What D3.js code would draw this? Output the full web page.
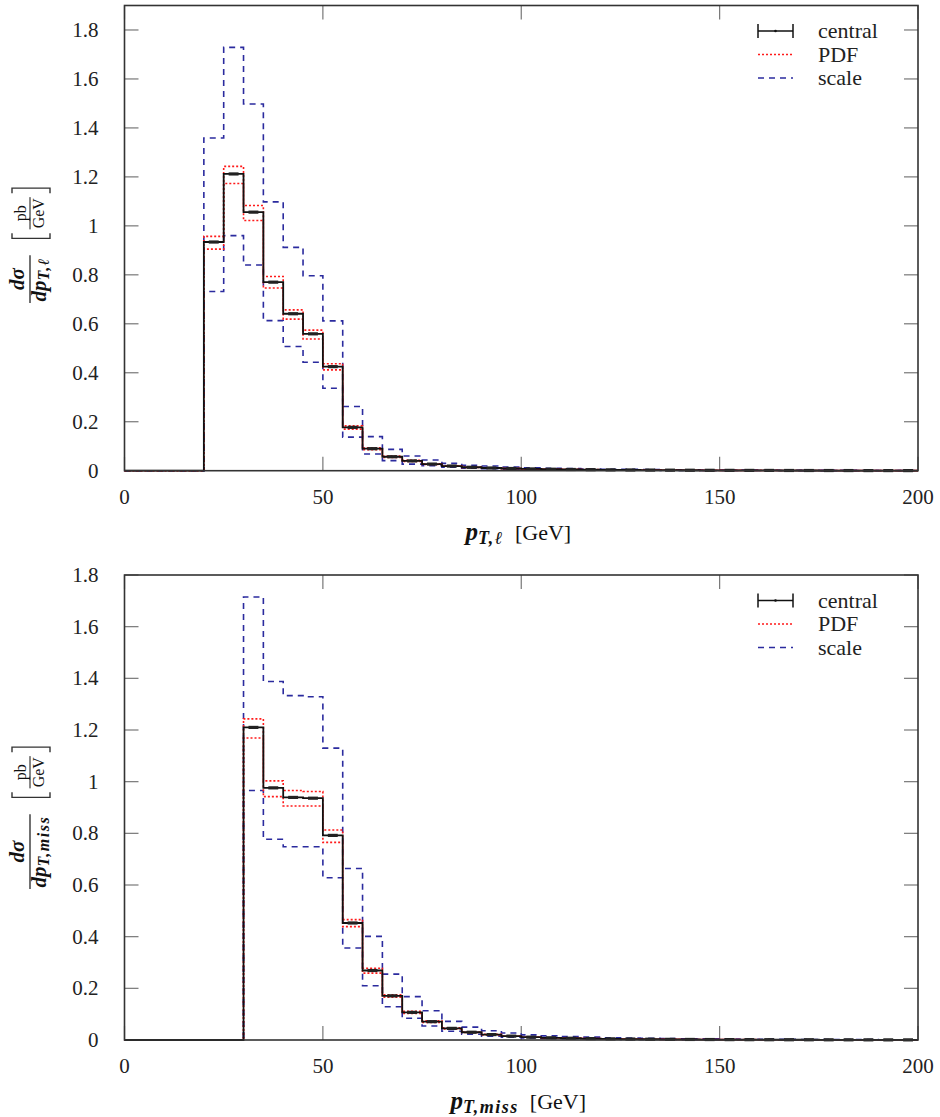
<!DOCTYPE html>
<html>
<head>
<meta charset="utf-8">
<script src="https://cdn.jsdelivr.net/npm/d3@7"></script>
<style>
  html, body { margin: 0; padding: 0; background: #fff; }
  svg text { font-family: "Liberation Serif", "Times New Roman", serif; }
</style>
</head>
<body>
<svg id="chart" width="940" height="1117" font-family="Liberation Serif, serif"></svg>
<script>
// 5 GeV bins from 0 to 200 GeV (lower edges)
const binWidth = 5;
const binLow = d3.range(0, 200, binWidth);

const xTicks = [0, 50, 100, 150, 200];
const yTicks = [0, 0.2, 0.4, 0.6, 0.8, 1, 1.2, 1.4, 1.6, 1.8];
const yTickLabels = ["0", "0.2", "0.4", "0.6", "0.8", "1", "1.2", "1.4", "1.6", "1.8"];
const legendLabels = ["central", "PDF", "scale"];

// ---- lepton transverse momentum, dσ/dp_T,ℓ [pb/GeV] ----
const lepCentral = [0, 0, 0, 0, 0.934, 1.212, 1.056, 0.770, 0.641, 0.559, 0.425, 0.177, 0.090, 0.057, 0.040, 0.027, 0.019, 0.014, 0.011, 0.009,
  0.0072, 0.0060, 0.0050, 0.0042, 0.0035, 0.0030, 0.0026, 0.0022, 0.0019, 0.0016, 0.0014, 0.0012, 0.0011, 0.0009, 0.0008, 0.0007, 0.0006, 0.0005, 0.0005, 0.0004];
const lepPdfUp = [0, 0, 0, 0, 0.957, 1.243, 1.083, 0.793, 0.657, 0.574, 0.437, 0.183, 0.094, 0.060, 0.042, 0.028, 0.020, 0.015, 0.0115, 0.0095,
  0.0076, 0.0063, 0.0053, 0.0044, 0.0037, 0.0032, 0.0027, 0.0023, 0.0020, 0.0017, 0.0015, 0.0013, 0.0012, 0.0010, 0.0009, 0.0008, 0.0007, 0.0006, 0.0005, 0.0005];
const lepPdfDown = [0, 0, 0, 0, 0.905, 1.173, 1.022, 0.746, 0.619, 0.538, 0.412, 0.170, 0.086, 0.054, 0.038, 0.026, 0.018, 0.013, 0.0105, 0.0085,
  0.0068, 0.0057, 0.0047, 0.0040, 0.0033, 0.0028, 0.0025, 0.0021, 0.0018, 0.0015, 0.0013, 0.0011, 0.0010, 0.0008, 0.0007, 0.0006, 0.0005, 0.0004, 0.0004, 0.0003];
const lepScaleUp = [0, 0, 0, 0, 1.359, 1.729, 1.498, 1.098, 0.912, 0.796, 0.612, 0.262, 0.139, 0.087, 0.060, 0.044, 0.030, 0.022, 0.019, 0.015,
  0.012, 0.010, 0.0085, 0.0072, 0.0062, 0.0053, 0.0046, 0.0040, 0.0035, 0.0030, 0.0026, 0.0023, 0.0020, 0.0018, 0.0016, 0.0014, 0.0012, 0.0011, 0.0010, 0.0009];
const lepScaleDown = [0, 0, 0, 0, 0.732, 0.960, 0.840, 0.613, 0.507, 0.443, 0.337, 0.137, 0.068, 0.041, 0.027, 0.020, 0.014, 0.010, 0.008, 0.006,
  0.0048, 0.0040, 0.0033, 0.0028, 0.0023, 0.0020, 0.0017, 0.0015, 0.0013, 0.0011, 0.0009, 0.0008, 0.0007, 0.0006, 0.0005, 0.0005, 0.0004, 0.0003, 0.0003, 0.0003];

// ---- missing transverse momentum, dσ/dp_T,miss [pb/GeV] ----
const missCentral = [0, 0, 0, 0, 0, 0, 1.210, 0.976, 0.939, 0.936, 0.792, 0.453, 0.269, 0.171, 0.107, 0.071, 0.045, 0.030, 0.021, 0.015,
  0.011, 0.0085, 0.0068, 0.0055, 0.0045, 0.0037, 0.0030, 0.0025, 0.0021, 0.0018, 0.0015, 0.0013, 0.0011, 0.0010, 0.0009, 0.0008, 0.0007, 0.0006, 0.0005, 0.0005];
const missPdfUp = [0, 0, 0, 0, 0, 0, 1.243, 1.003, 0.966, 0.962, 0.813, 0.466, 0.278, 0.175, 0.111, 0.074, 0.047, 0.031, 0.022, 0.0157,
  0.0115, 0.0089, 0.0071, 0.0057, 0.0047, 0.0039, 0.0031, 0.0026, 0.0022, 0.0019, 0.0016, 0.0014, 0.0012, 0.0010, 0.0009, 0.0008, 0.0007, 0.0006, 0.0005, 0.0005];
const missPdfDown = [0, 0, 0, 0, 0, 0, 1.169, 0.942, 0.906, 0.906, 0.765, 0.439, 0.259, 0.166, 0.103, 0.068, 0.043, 0.029, 0.020, 0.0143,
  0.0105, 0.0081, 0.0065, 0.0053, 0.0043, 0.0035, 0.0029, 0.0024, 0.0020, 0.0017, 0.0014, 0.0012, 0.0010, 0.0009, 0.0008, 0.0007, 0.0006, 0.0005, 0.0005, 0.0004];
const missScaleUp = [0, 0, 0, 0, 0, 0, 1.715, 1.388, 1.333, 1.329, 1.130, 0.664, 0.401, 0.255, 0.168, 0.113, 0.072, 0.050, 0.036, 0.027,
  0.020, 0.016, 0.013, 0.011, 0.009, 0.0075, 0.0065, 0.0055, 0.0048, 0.0042, 0.0036, 0.0031, 0.0027, 0.0024, 0.0021, 0.0018, 0.0016, 0.0014, 0.0012, 0.0011];
const missScaleDown = [0, 0, 0, 0, 0, 0, 0.966, 0.777, 0.748, 0.748, 0.628, 0.356, 0.210, 0.129, 0.084, 0.054, 0.034, 0.022, 0.015, 0.011,
  0.008, 0.006, 0.0048, 0.0039, 0.0032, 0.0026, 0.0021, 0.0018, 0.0015, 0.0013, 0.0011, 0.0009, 0.0008, 0.0007, 0.0006, 0.0005, 0.0005, 0.0004, 0.0004, 0.0003];

const panels = [
  { top: 5.5, bottom: 470.7, yMax: 1.9, sub: "T,\u2113", titleBase: 303,
    central: lepCentral, pdfUp: lepPdfUp, pdfDown: lepPdfDown, scaleUp: lepScaleUp, scaleDown: lepScaleDown },
  { top: 575, bottom: 1040, yMax: 1.8, sub: "T,miss", titleBase: 889,
    central: missCentral, pdfUp: missPdfUp, pdfDown: missPdfDown, scaleUp: missScaleUp, scaleDown: missScaleDown }
];

const LEFT = 124.5, RIGHT = 918;
const svg = d3.select("#chart");
const frameColor = "#333";
const tickColor = "#777";
const textColor = "#222";
const colCentral = "#111";
const colPdf = "#ff1a1a";
const colScale = "#2b2b9e";
const serif = "Liberation Serif, serif";

const x = d3.scaleLinear().domain([0, 200]).range([LEFT, RIGHT]);

function drawPanel(p) {
  const g = svg.append("g").attr("font-family", serif);
  const y = d3.scaleLinear().domain([0, p.yMax]).range([p.bottom, p.top]);

  // inward ticks on all four sides
  const tickLen = 14;
  const axes = g.append("g").attr("stroke", tickColor).attr("stroke-width", 1.2);
  xTicks.forEach(t => {
    axes.append("line").attr("x1", x(t)).attr("x2", x(t)).attr("y1", p.bottom).attr("y2", p.bottom - tickLen);
    axes.append("line").attr("x1", x(t)).attr("x2", x(t)).attr("y1", p.top).attr("y2", p.top + tickLen);
  });
  yTicks.forEach(t => {
    axes.append("line").attr("x1", LEFT).attr("x2", LEFT + tickLen).attr("y1", y(t)).attr("y2", y(t));
    axes.append("line").attr("x1", RIGHT).attr("x2", RIGHT - tickLen).attr("y1", y(t)).attr("y2", y(t));
  });

  // tick labels
  g.append("g").selectAll("text").data(xTicks).join("text")
    .attr("x", d => x(d)).attr("y", p.bottom + 33)
    .attr("text-anchor", "middle").attr("font-size", 21).attr("fill", textColor)
    .text(d => d);
  g.append("g").selectAll("text").data(yTicks).join("text")
    .attr("x", LEFT - 26).attr("y", d => y(d)).attr("dy", "0.34em")
    .attr("text-anchor", "end").attr("font-size", 21).attr("fill", textColor)
    .text((d, i) => yTickLabels[i]);

  // histogram step curves
  const step = d3.line().x(d => x(d[0])).y(d => y(d[1])).curve(d3.curveStepAfter);
  const pts = vals => binLow.map((b, i) => [b, vals[i]]).concat([[200, vals[vals.length - 1]]]);

  const curves = g.append("g").attr("fill", "none");
  [p.scaleUp, p.scaleDown].forEach(v => curves.append("path").attr("d", step(pts(v)))
    .attr("stroke", colScale).attr("stroke-width", 1.6).attr("stroke-dasharray", "6,5"));
  [p.pdfUp, p.pdfDown].forEach(v => curves.append("path").attr("d", step(pts(v)))
    .attr("stroke", colPdf).attr("stroke-width", 1.6).attr("stroke-dasharray", "2,2"));
  curves.append("path").attr("d", step(pts(p.central)))
    .attr("stroke", colCentral).attr("stroke-width", 1.8);

  // short bars marking the central value in each filled bin
  g.append("g").selectAll("line").data(binLow.map((b, i) => [b, p.central[i]]).filter(d => d[1] > 0)).join("line")
    .attr("x1", d => x(d[0] + binWidth * 0.25)).attr("x2", d => x(d[0] + binWidth * 0.75))
    .attr("y1", d => y(d[1])).attr("y2", d => y(d[1]))
    .attr("stroke", "#222").attr("stroke-width", 3.2);

  // frame
  g.append("rect").attr("x", LEFT).attr("y", p.top).attr("width", RIGHT - LEFT).attr("height", p.bottom - p.top)
    .attr("fill", "none").attr("stroke", frameColor).attr("stroke-width", 1.6);

  // legend
  const lg = g.append("g");
  const kx0 = 758, kx1 = 793, tx = 818;
  legendLabels.forEach((lab, i) => {
    const ry = p.top + 25.5 + 23.5 * i;
    if (i === 0) {
      lg.append("line").attr("x1", kx0).attr("x2", kx1).attr("y1", ry).attr("y2", ry).attr("stroke", "#111").attr("stroke-width", 1.5);
      lg.append("line").attr("x1", kx0).attr("x2", kx0).attr("y1", ry - 7).attr("y2", ry + 7).attr("stroke", "#111").attr("stroke-width", 1.5);
      lg.append("line").attr("x1", kx1).attr("x2", kx1).attr("y1", ry - 7).attr("y2", ry + 7).attr("stroke", "#111").attr("stroke-width", 1.5);
      lg.append("circle").attr("cx", (kx0 + kx1) / 2).attr("cy", ry).attr("r", 1.3).attr("fill", "#111");
    } else if (i === 1) {
      lg.append("line").attr("x1", kx0).attr("x2", kx1).attr("y1", ry).attr("y2", ry)
        .attr("stroke", colPdf).attr("stroke-width", 1.5).attr("stroke-dasharray", "2,2");
    } else {
      lg.append("line").attr("x1", kx0).attr("x2", kx1).attr("y1", ry).attr("y2", ry)
        .attr("stroke", colScale).attr("stroke-width", 1.5).attr("stroke-dasharray", "6,5");
    }
    lg.append("text").attr("x", tx).attr("y", ry + 7).attr("font-size", 22).attr("fill", textColor).text(lab);
  });

  // x-axis title: p_T,… [GeV]
  const xt = g.append("text").attr("x", (LEFT + RIGHT) / 2 - 3).attr("y", p.bottom + 69)
    .attr("text-anchor", "middle").attr("font-size", 22).attr("fill", "#111");
  xt.append("tspan").attr("font-style", "italic").attr("font-weight", "bold").attr("font-size", 25).text("p");
  xt.append("tspan").attr("font-style", "italic").attr("font-weight", "bold").attr("font-size", 18)
    .attr("letter-spacing", 1.5).attr("dy", 4).text(p.sub);
  xt.append("tspan").attr("dy", -4).text("\u2002[GeV]");

  // rotated y-axis title: dσ/dp_T,… [pb/GeV]
  const yl = g.append("g").attr("transform", `translate(30,${p.titleBase}) rotate(-90)`).attr("fill", "#111");
  const num = yl.append("text").attr("y", -6).attr("font-size", 21).attr("font-style", "italic").attr("font-weight", "bold").text("d\u03c3");
  const den = yl.append("text").attr("y", 16).attr("font-size", 21).attr("font-style", "italic").attr("font-weight", "bold");
  den.append("tspan").text("dp");
  den.append("tspan").attr("font-size", 16).attr("letter-spacing", 1.5).attr("dy", 3).text(p.sub);
  const wn = num.node().getComputedTextLength();
  const wd = den.node().getComputedTextLength();
  const W = Math.max(wn, wd) + 3;
  num.attr("x", (W - wn) / 2);
  den.attr("x", (W - wd) / 2);
  yl.append("line").attr("x1", 0).attr("x2", W).attr("y1", 0).attr("y2", 0).attr("stroke", "#111").attr("stroke-width", 1.2);

  // bracketed unit pb/GeV
  const bx = W + 17;
  const pbT = yl.append("text").attr("y", -4).attr("font-size", 16).text("pb");
  const gvT = yl.append("text").attr("y", 14).attr("font-size", 16).text("GeV");
  const wpb = pbT.node().getComputedTextLength();
  const wgv = gvT.node().getComputedTextLength();
  const UW = Math.max(wpb, wgv) + 2;
  const ux = bx + 9;
  pbT.attr("x", ux + (UW - wpb) / 2);
  gvT.attr("x", ux + (UW - wgv) / 2);
  yl.append("line").attr("x1", ux).attr("x2", ux + UW).attr("y1", 0).attr("y2", 0).attr("stroke", "#111").attr("stroke-width", 1);
  const bL = bx, bR = ux + UW + 9;
  yl.append("path").attr("fill", "none").attr("stroke", "#333").attr("stroke-width", 1.4)
    .attr("d", `M${bL + 5},-18 L${bL},-18 L${bL},20 L${bL + 5},20 M${bR - 5},-18 L${bR},-18 L${bR},20 L${bR - 5},20`);
}

panels.forEach(drawPanel);
</script>
</body>
</html>
